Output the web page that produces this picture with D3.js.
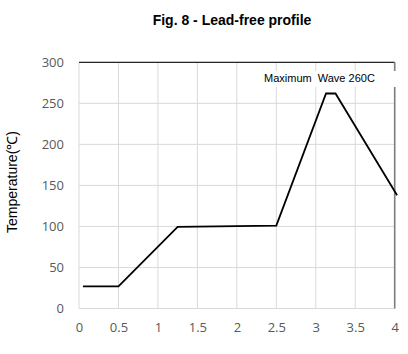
<!DOCTYPE html>
<html><head><meta charset="utf-8">
<script src="https://cdn.jsdelivr.net/npm/d3@7"></script>
<style>body{margin:0;background:#fff}svg{display:block}</style>
</head><body>
<svg id="c" width="408" height="354"></svg>
<script>
const timeValues = [0.05, 0.5, 1.25, 2.5, 3.13, 3.25, 4.03];
const tempValues = [27, 27, 99.5, 101, 262, 262, 138];
const xTicks = [0, 0.5, 1, 1.5, 2, 2.5, 3, 3.5, 4];
const yTicks = [0, 50, 100, 150, 200, 250, 300];
const title = "Fig. 8 - Lead-free profile";
const yLabel = "Temperature(℃)";
const note = "Maximum  Wave 260C";

const svg = d3.select("#c");
const x = d3.scaleLinear().domain([0, 4]).range([79, 394.7]);
const y = d3.scaleLinear().domain([0, 300]).range([308.5, 62.3]);

// gridlines
svg.append("g").selectAll("line.v").data(xTicks).join("line")
  .attr("x1", d => x(d)).attr("x2", d => x(d)).attr("y1", y(300)).attr("y2", y(0))
  .attr("stroke", "#d9d9d9").attr("stroke-width", 1);
svg.append("g").selectAll("line.h").data(yTicks).join("line")
  .attr("x1", x(0)).attr("x2", x(4)).attr("y1", d => y(d)).attr("y2", d => y(d))
  .attr("stroke", "#d9d9d9").attr("stroke-width", 1);

// axes (labels only)
const xAxis = svg.append("g").attr("transform", `translate(0,${y(0)})`)
  .call(d3.axisBottom(x).tickValues(xTicks).tickSize(0).tickPadding(14).tickFormat(d3.format("")));
const yAxis = svg.append("g").attr("transform", `translate(${x(0)},0)`)
  .call(d3.axisLeft(y).tickValues(yTicks).tickSize(0).tickPadding(15));
[xAxis, yAxis].forEach(g => {
  g.select(".domain").remove();
  g.selectAll("text").attr("fill", "#595959").style("font-family", "'Open Sans', 'Liberation Sans', sans-serif").style("font-size", "13px");
});

// frame: dark top and right lines
svg.append("line").attr("x1", x(0)).attr("x2", x(4)).attr("y1", y(300)).attr("y2", y(300))
  .attr("stroke", "#262626").attr("stroke-width", 1.2);
svg.append("line").attr("x1", x(4)).attr("x2", x(4)).attr("y1", y(300)).attr("y2", y(0))
  .attr("stroke", "#7f7f7f").attr("stroke-width", 1.6);

// annotation box
svg.append("rect").attr("x", 262).attr("y", 71).attr("width", 136).attr("height", 16).attr("fill", "#fff");
svg.append("text").attr("x", 264).attr("y", 82).text(note)
  .attr("fill", "#000").style("white-space", "pre")
  .style("font-family", "'Liberation Sans', Arial, sans-serif").style("font-size", "11px");

// data line
const line = d3.line().x((d, i) => x(timeValues[i])).y(d => y(d));
svg.append("path").datum(tempValues).attr("d", line)
  .attr("fill", "none").attr("stroke", "#000").attr("stroke-width", 1.8).attr("stroke-linejoin", "miter");

// title
svg.append("text").attr("x", 232).attr("y", 25).attr("text-anchor", "middle").text(title)
  .attr("fill", "#000").style("font-family", "'Liberation Sans', Arial, sans-serif").style("font-size", "14px").style("font-weight", "bold");

// y label
svg.append("text").attr("transform", "translate(17,182) rotate(-90)").attr("text-anchor", "middle").text(yLabel)
  .attr("fill", "#000").style("font-family", "'Liberation Sans', Arial, sans-serif").style("font-size", "14px");
</script>
</body></html>
